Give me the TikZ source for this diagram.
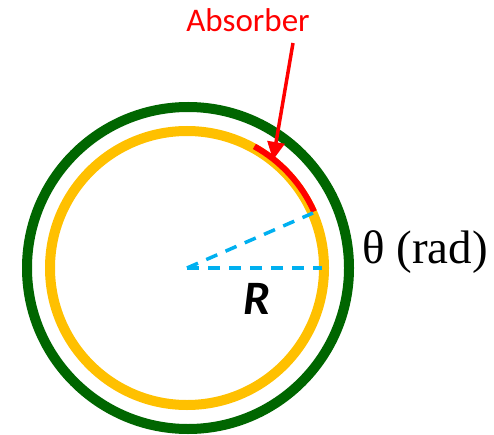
\documentclass[tikz,border=0pt]{standalone}
\usepackage{fontspec}
\setmainfont{Liberation Serif}
\newfontfamily\calib{Carlito}
\usetikzlibrary{arrows.meta}
\definecolor{ringgreen}{RGB}{0,102,0}
\definecolor{ringyellow}{RGB}{255,192,0}
\definecolor{dashblue}{RGB}{0,176,240}
\definecolor{absred}{RGB}{255,0,0}
\tikzset{
  greenring/.style={draw=ringgreen,line width=10pt},
  yellowring/.style={draw=ringyellow,line width=10pt},
  redarc/.style={draw=absred,line width=6pt},
  radline/.style={draw=dashblue,line width=3.5pt,dash pattern=on 12pt off 9pt},
  pointer/.style={draw=absred,line width=3.5pt,-{Triangle[length=18pt,width=17pt]}},
}
\begin{document}
\begin{tikzpicture}[x=1pt,y=-1pt]
\useasboundingbox (0,0) rectangle (494,435);
\coordinate (c) at (187,268);
\draw[greenring] (188,268) circle[radius=161];
\draw[yellowring] (c) circle[radius=137];
\draw[redarc] (c) ++(-61:139) arc[start angle=-61,end angle=-24,radius=139];
\coordinate (h) at (322,268);
\coordinate (s) at (313,213);
\draw[radline] (c) -- (h);
\draw[radline] (c) -- (s);
\node[text=absred,font=\calib\fontsize{33}{38}\selectfont] (abs) at (248,20) {Absorber};
\coordinate (ptop) at (293,43);
\coordinate (ptip) at (273,160);
\draw[pointer] (ptop) -- (ptip);
\node[font=\fontsize{47}{54}\selectfont] (theta) at (425,252) {θ (rad)};
\node[font=\calib\bfseries\itshape\fontsize{48}{54}\selectfont] (R) at (257,299) {R};
\end{tikzpicture}
\end{document}
